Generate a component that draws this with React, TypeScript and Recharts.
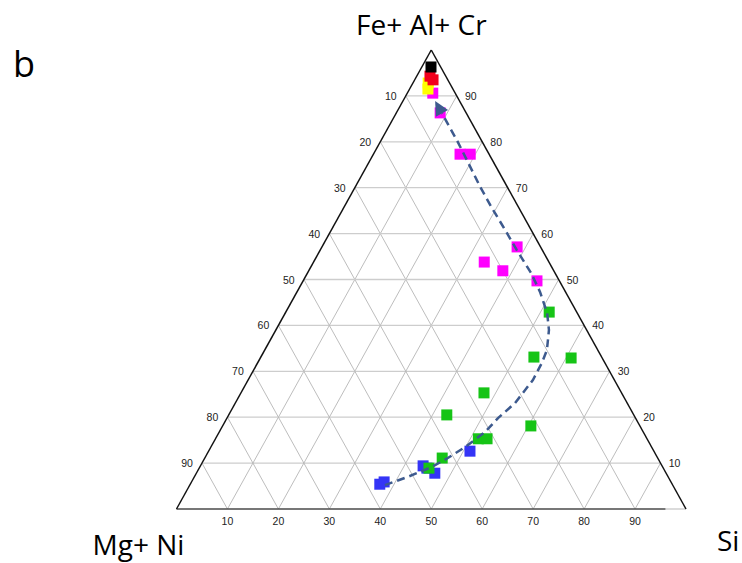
import React from 'react';
import { ScatterChart, Scatter, XAxis, YAxis, ReferenceLine } from 'recharts';

const W = 742;
const H = 563;
const MARGIN = { top: 50, right: 56, bottom: 54, left: 176.5 };
const PW = W - MARGIN.left - MARGIN.right;
const PH = H - MARGIN.top - MARGIN.bottom;

// Compositions in % : fe = Fe+Al+Cr, si = Si, mg = Mg+Ni
const blackPoints = [{ fe: 96.3, si: 1.8, mg: 1.9 }];
const redPoints = [
  { fe: 94.3, si: 2.6, mg: 3.1 },
  { fe: 93.5, si: 3.6, mg: 2.9 },
];
const yellowPoints = [
  { fe: 92.8, si: 3.0, mg: 4.2 },
  { fe: 91.5, si: 3.6, mg: 4.9 },
];
const magentaPoints = [
  { fe: 90.6, si: 5.0, mg: 4.4 },
  { fe: 86.3, si: 8.6, mg: 5.1 },
  { fe: 77.3, si: 17.0, mg: 5.7 },
  { fe: 77.3, si: 19.0, mg: 3.7 },
  { fe: 53.8, si: 33.5, mg: 12.7 },
  { fe: 51.9, si: 38.1, mg: 10.0 },
  { fe: 57.1, si: 38.3, mg: 4.6 },
  { fe: 49.7, si: 45.9, mg: 4.4 },
];
const greenPoints = [
  { fe: 42.9, si: 51.7, mg: 5.4 },
  { fe: 33.1, si: 53.6, mg: 13.3 },
  { fe: 32.9, si: 61.0, mg: 6.1 },
  { fe: 25.3, si: 47.7, mg: 27.0 },
  { fe: 20.5, si: 42.8, mg: 36.7 },
  { fe: 18.1, si: 60.5, mg: 21.4 },
  { fe: 15.3, si: 51.6, mg: 33.1 },
  { fe: 15.3, si: 53.3, mg: 31.4 },
  { fe: 11.1, si: 46.6, mg: 42.3 },
  { fe: 8.9, si: 45.1, mg: 46.0 },
];
const bluePoints = [
  { fe: 5.4, si: 37.2, mg: 57.4 },
  { fe: 5.9, si: 37.8, mg: 56.3 },
  { fe: 9.4, si: 43.7, mg: 46.9 },
  { fe: 8.9, si: 44.7, mg: 46.4 },
  { fe: 7.8, si: 46.8, mg: 45.4 },
  { fe: 12.6, si: 51.3, mg: 36.1 },
];
// dashed evolution trend (ends with arrow)
const trendPoints = [
  { fe: 5.2, si: 38.3 },
  { fe: 7.0, si: 41.9 },
  { fe: 9.2, si: 45.6 },
  { fe: 11.1, si: 47.7 },
  { fe: 13.5, si: 49.9 },
  { fe: 16.8, si: 52.2 },
  { fe: 19.8, si: 53.2 },
  { fe: 23.1, si: 54.9 },
  { fe: 28.1, si: 55.9 },
  { fe: 31.8, si: 55.8 },
  { fe: 34.6, si: 55.4 },
  { fe: 39.0, si: 53.6 },
  { fe: 42.7, si: 51.4 },
  { fe: 47.3, si: 47.7 },
  { fe: 51.4, si: 43.9 },
  { fe: 56.4, si: 38.6 },
  { fe: 60.8, si: 34.1 },
  { fe: 65.6, si: 29.1 },
  { fe: 70.2, si: 24.5 },
  { fe: 76.0, si: 19.0 },
  { fe: 80.2, si: 15.0 },
  { fe: 83.4, si: 11.8 },
  { fe: 86.2, si: 9.0 },
];

const gridTicks = [10, 20, 30, 40, 50, 60, 70, 80, 90];
const leftTickLabels = ['10', '20', '30', '40', '50', '60', '70', '80', '90'];
const rightTickLabels = ['90', '80', '70', '60', '50', '40', '30', '20', '10'];
const bottomTickLabels = ['10', '20', '30', '40', '50', '60', '70', '80', '90'];

const toXY = (p: { fe: number; si: number }) => ({ x: p.si + p.fe / 2, y: p.fe });

const trendXY = trendPoints.map(toXY);

const leftLabelData = leftTickLabels.map((l) => {
  const fe = 100 - Number(l);
  return { x: fe / 2, y: fe, label: l };
});
const rightLabelData = rightTickLabels.map((l) => {
  const fe = Number(l);
  return { x: 100 - fe / 2, y: fe, label: l };
});
const bottomLabelData = bottomTickLabels.map((l) => ({ x: Number(l), y: 0, label: l }));

const squareShape = (color: string) => (props: any) => {
  const s = 11;
  return <rect x={props.cx - s / 2} y={props.cy - s / 2} width={s} height={s} fill={color} />;
};

const labelShape = (dx: number, dy: number) => (props: any) => (
  <text
    x={props.cx + dx}
    y={props.cy + dy}
    textAnchor="middle"
    dominantBaseline="central"
    fontSize={10.5}
    fontFamily="'Liberation Sans', Arial, sans-serif"
    fill="#222"
  >
    {props.payload.label}
  </text>
);

const TREND_COLOR = '#3d5a8e';

const arrowShape = (props: any) => {
  const n = trendXY.length;
  const last = trendXY[n - 1];
  const prev = trendXY[n - 2];
  const p = props.payload;
  if (!p || p.x !== last.x || p.y !== last.y) return <g />;
  const dx = ((last.x - prev.x) * PW) / 100;
  const dy = (-(last.y - prev.y) * PH) / 100;
  const ang = (Math.atan2(dy, dx) * 180) / Math.PI;
  return (
    <polygon
      points="14,0 0,-7 0,7"
      transform={`translate(${props.cx},${props.cy}) rotate(${ang})`}
      fill={TREND_COLOR}
    />
  );
};

const H_GRID = '#cdcdcd';
const D_GRID = '#b5b5b5';

export default function App() {
  const gridLines: any[] = [];
  gridTicks.forEach((v) => {
    gridLines.push(
      <ReferenceLine
        key={`h${v}`}
        segment={[{ x: v / 2, y: v }, { x: 100 - v / 2, y: v }]}
        stroke={H_GRID}
        strokeWidth={1.3}
      />
    );
    gridLines.push(
      <ReferenceLine
        key={`s${v}`}
        segment={[{ x: v, y: 0 }, { x: v + (100 - v) / 2, y: 100 - v }]}
        stroke={D_GRID}
        strokeWidth={0.9}
      />
    );
    gridLines.push(
      <ReferenceLine
        key={`m${v}`}
        segment={[{ x: 100 - v, y: 0 }, { x: (100 - v) / 2, y: 100 - v }]}
        stroke={D_GRID}
        strokeWidth={0.9}
      />
    );
  });

  return (
    <div style={{ position: 'absolute', left: 0, top: 0, width: W, height: H, background: '#fff' }}>
      <ScatterChart width={W} height={H} margin={MARGIN}>
        <XAxis type="number" dataKey="x" domain={[0, 100]} hide />
        <YAxis type="number" dataKey="y" domain={[0, 100]} hide />
        {gridLines}
        <ReferenceLine segment={[{ x: 0, y: 0 }, { x: 96, y: 0 }]} stroke="#4a4a4a" strokeWidth={1.6} />
        <ReferenceLine segment={[{ x: 96, y: 0 }, { x: 100, y: 0 }]} stroke="#c8c8c8" strokeWidth={1.3} />
        <ReferenceLine segment={[{ x: 0, y: 0 }, { x: 50, y: 100 }]} stroke="#111" strokeWidth={1.5} />
        <ReferenceLine segment={[{ x: 100, y: 0 }, { x: 50, y: 100 }]} stroke="#111" strokeWidth={1.5} />

        <Scatter data={leftLabelData} shape={labelShape(-15, 0)} isAnimationActive={false} />
        <Scatter data={rightLabelData} shape={labelShape(14, 0)} isAnimationActive={false} />
        <Scatter data={bottomLabelData} shape={labelShape(0, 12)} isAnimationActive={false} />

        <Scatter data={bluePoints.map(toXY)} shape={squareShape('#3434f6')} isAnimationActive={false} />
        <Scatter data={greenPoints.map(toXY)} shape={squareShape('#16c416')} isAnimationActive={false} />
        <Scatter data={magentaPoints.map(toXY)} shape={squareShape('#ff00ff')} isAnimationActive={false} />
        <Scatter data={yellowPoints.map(toXY)} shape={squareShape('#ffff00')} isAnimationActive={false} />
        <Scatter data={redPoints.map(toXY)} shape={squareShape('#f2001c')} isAnimationActive={false} />
        <Scatter data={blackPoints.map(toXY)} shape={squareShape('#000000')} isAnimationActive={false} />

        <Scatter
          data={trendXY}
          fill={TREND_COLOR}
          line={{ stroke: TREND_COLOR, strokeWidth: 2.5, strokeDasharray: '8 5' }}
          lineJointType="linear"
          shape={arrowShape}
          isAnimationActive={false}
        />
      </ScatterChart>
      <svg
        width={W}
        height={H}
        style={{ position: 'absolute', left: 0, top: 0, pointerEvents: 'none' }}
      >
        <g fontFamily="'Open Sans', 'Noto Sans', sans-serif" fill="#000">
          <text x={356} y={35} fontSize={28}>Fe+ Al+ Cr</text>
          <text x={13} y={77} fontSize={36}>b</text>
          <text x={92.5} y={555} fontSize={28}>Mg+ Ni</text>
          <text x={717} y={551} fontSize={28}>Si</text>
        </g>
      </svg>
    </div>
  );
}
